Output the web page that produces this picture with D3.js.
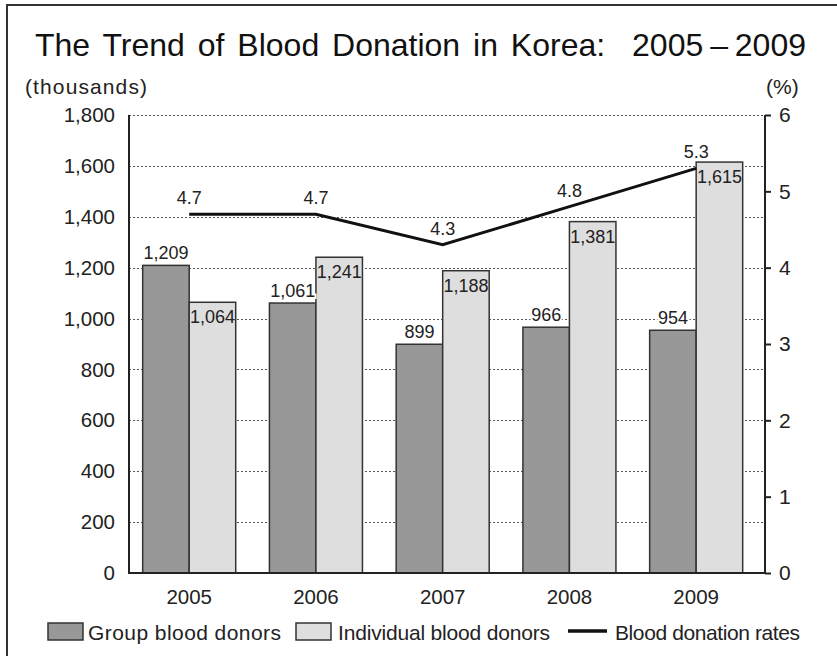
<!DOCTYPE html>
<html>
<head>
<meta charset="utf-8">
<script src="https://cdn.jsdelivr.net/npm/d3@7"></script>
<style>
  body { margin: 0; background: #fff; }
  svg text { font-family: "Liberation Sans", Arial, sans-serif; fill: #222; }
</style>
</head>
<body>
<svg id="chart" width="837" height="656"></svg>
<script>
const years = ["2005", "2006", "2007", "2008", "2009"];
const groupDonors = [1209, 1061, 899, 966, 954];
const individualDonors = [1064, 1241, 1188, 1381, 1615];
const donationRates = [4.7, 4.7, 4.3, 4.8, 5.3];
const leftTicks = [0, 200, 400, 600, 800, 1000, 1200, 1400, 1600, 1800];
const rightTicks = [0, 1, 2, 3, 4, 5, 6];

const svg = d3.select("#chart");
const fmt = d3.format(",");

// frame
svg.append("rect")
  .attr("x", 7).attr("y", 5).attr("width", 850).attr("height", 670)
  .attr("fill", "none").attr("stroke", "#333").attr("stroke-width", 2);

const plotLeft = 129, plotRight = 765, plotTop = 115, plotBottom = 573;

const x = d3.scaleBand().domain(years).range([plotLeft, plotRight])
  .paddingInner(0.266).paddingOuter(0.142).align(0.38);
const xs = d3.scaleBand().domain(["group", "individual"]).range([0, x.bandwidth()]);
const y = d3.scaleLinear().domain([0, 1800]).range([plotBottom, plotTop]);
const y2 = d3.scaleLinear().domain([0, 6]).range([plotBottom, plotTop]);

// title (split so the dash part keeps tight spacing)
svg.append("text")
  .attr("x", 35).attr("y", 56)
  .style("font-size", "32px").style("fill", "#111").style("word-spacing", "4px")
  .text("The Trend of Blood Donation in Korea:");
svg.append("text")
  .attr("x", 806).attr("y", 56).attr("text-anchor", "end")
  .style("font-size", "32px").style("fill", "#111").style("word-spacing", "-2px")
  .text("2005 \u2013 2009");

svg.append("text").attr("x", 25).attr("y", 94).attr("textLength", 122)
  .style("font-size", "21px").text("(thousands)");
svg.append("text").attr("x", 766).attr("y", 94).style("font-size", "21px").text("(%)");

// dotted gridlines
svg.append("g")
  .selectAll("line")
  .data(leftTicks.filter(d => d > 0))
  .join("line")
  .attr("x1", plotLeft).attr("x2", plotRight)
  .attr("y1", d => Math.round(y(d)) + 0.5).attr("y2", d => Math.round(y(d)) + 0.5)
  .attr("stroke", "#555").attr("stroke-width", 1).attr("stroke-dasharray", "2,2");

// bars
const rows = years.map((yr, i) => ({ year: yr, group: groupDonors[i], individual: individualDonors[i], rate: donationRates[i] }));

const bars = svg.append("g");
bars.selectAll("rect.group")
  .data(rows).join("rect")
  .attr("class", "group")
  .attr("x", d => x(d.year) + xs("group"))
  .attr("y", d => y(d.group))
  .attr("width", xs.bandwidth())
  .attr("height", d => plotBottom - y(d.group))
  .attr("fill", "#989898").attr("stroke", "#333").attr("stroke-width", 1.5);

bars.selectAll("rect.individual")
  .data(rows).join("rect")
  .attr("class", "individual")
  .attr("x", d => x(d.year) + xs("individual"))
  .attr("y", d => y(d.individual))
  .attr("width", xs.bandwidth())
  .attr("height", d => plotBottom - y(d.individual))
  .attr("fill", "#dedede").attr("stroke", "#333").attr("stroke-width", 1.5);

// bar labels
svg.append("g").selectAll("text")
  .data(rows).join("text")
  .attr("x", d => x(d.year) + xs("group") + xs.bandwidth() / 2)
  .attr("y", d => y(d.group) - 6)
  .attr("text-anchor", "middle")
  .style("font-size", "18px")
  .style("paint-order", "stroke").style("stroke", "#fff").style("stroke-width", 4)
  .text(d => fmt(d.group));

svg.append("g").selectAll("text")
  .data(rows).join("text")
  .attr("x", d => x(d.year) + xs("individual") + xs.bandwidth() / 2)
  .attr("y", d => y(d.individual) + 21)
  .attr("text-anchor", "middle")
  .style("font-size", "18px")
  .text(d => fmt(d.individual));

// axes
const axisColor = "#222";
svg.append("line").attr("x1", plotLeft).attr("x2", plotLeft).attr("y1", plotTop).attr("y2", plotBottom + 1)
  .attr("stroke", axisColor).attr("stroke-width", 2);
svg.append("line").attr("x1", plotLeft - 1).attr("x2", plotRight + 1).attr("y1", plotBottom).attr("y2", plotBottom)
  .attr("stroke", axisColor).attr("stroke-width", 2);

const yAxisR = svg.append("g")
  .attr("transform", `translate(${plotRight},0)`)
  .call(d3.axisRight(y2).tickValues(rightTicks).tickSize(6).tickPadding(8).tickFormat(d3.format("d")));
yAxisR.select(".domain").attr("stroke", axisColor).attr("stroke-width", 2).attr("d", `M0,${plotTop}V${plotBottom + 1}`);
yAxisR.selectAll(".tick line").attr("stroke", axisColor).attr("stroke-width", 2);
yAxisR.selectAll(".tick text").style("font-size", "21px").attr("fill", "#222");

const yAxisL = svg.append("g")
  .attr("transform", `translate(${plotLeft},0)`)
  .call(d3.axisLeft(y).tickValues(leftTicks).tickSize(0).tickPadding(14).tickFormat(fmt));
yAxisL.select(".domain").remove();
yAxisL.selectAll(".tick text").style("font-size", "20.5px").attr("fill", "#222");

const xAxis = svg.append("g")
  .attr("transform", `translate(0,${plotBottom})`)
  .call(d3.axisBottom(x).tickSize(0).tickPadding(16));
xAxis.select(".domain").remove();
xAxis.selectAll(".tick text").style("font-size", "20.5px").attr("fill", "#222");

// rate line
const line = d3.line()
  .x(d => x(d.year) + x.bandwidth() / 2)
  .y(d => y2(d.rate));
svg.append("path").datum(rows)
  .attr("d", line).attr("fill", "none").attr("stroke", "#111").attr("stroke-width", 3);

svg.append("g").selectAll("text")
  .data(rows).join("text")
  .attr("x", d => x(d.year) + x.bandwidth() / 2)
  .attr("y", d => y2(d.rate) - 10)
  .attr("text-anchor", "middle")
  .style("font-size", "18px")
  .text(d => d.rate.toFixed(1));

// legend
const legend = svg.append("g");
legend.append("rect").attr("x", 48).attr("y", 623).attr("width", 35).attr("height", 17)
  .attr("fill", "#989898").attr("stroke", "#333").attr("stroke-width", 1.5);
legend.append("text").attr("x", 88).attr("y", 640).attr("textLength", 193)
  .style("font-size", "21px").text("Group blood donors");
legend.append("rect").attr("x", 296).attr("y", 623).attr("width", 35).attr("height", 17)
  .attr("fill", "#dedede").attr("stroke", "#333").attr("stroke-width", 1.5);
legend.append("text").attr("x", 338).attr("y", 640).attr("textLength", 212)
  .style("font-size", "21px").text("Individual blood donors");
legend.append("line").attr("x1", 568).attr("x2", 607).attr("y1", 631).attr("y2", 631)
  .attr("stroke", "#111").attr("stroke-width", 3.5);
legend.append("text").attr("x", 615).attr("y", 640).attr("textLength", 185)
  .style("font-size", "21px").text("Blood donation rates");
</script>
</body>
</html>
